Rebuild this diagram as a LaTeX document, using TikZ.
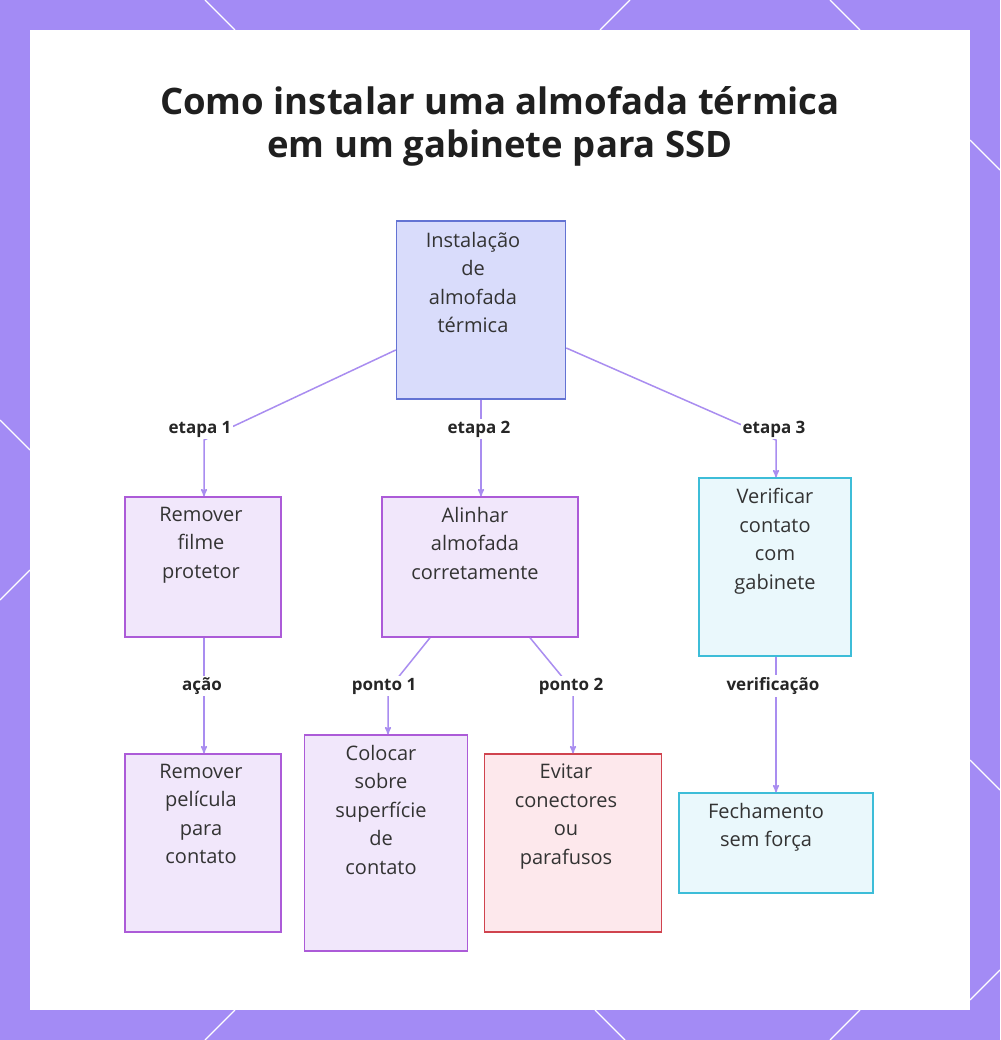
\documentclass[tikz,border=0pt]{standalone}
\usepackage{fontspec}
\setmainfont{Open Sans}
\usetikzlibrary{arrows,calc,positioning}
\definecolor{frame}{HTML}{A38BF5}
\definecolor{edge}{HTML}{A98DF0}
\definecolor{rootfill}{HTML}{D9DCFB}
\definecolor{rootline}{HTML}{6373D3}
\definecolor{purfill}{HTML}{F1E7FB}
\definecolor{purline}{HTML}{AC5BD8}
\definecolor{cyfill}{HTML}{EAF8FC}
\definecolor{cyline}{HTML}{3DBDD8}
\definecolor{redfill}{HTML}{FDE8EC}
\definecolor{redline}{HTML}{D0434E}
\begin{document}
\begin{tikzpicture}[x=1pt,y=-1pt]
		\tikzstyle{box}=[draw,line width=1.5pt,inner sep=0pt]
		\tikzstyle{words}=[align=center,inner sep=0pt,anchor=north,
			font=\fontsize{20}{28.5}\selectfont,text=black!80]
		\tikzstyle{purple box}=[box,fill=purfill,draw=purline]
		\tikzstyle{cyan box}=[box,fill=cyfill,draw=cyline]
		\tikzstyle{link}=[draw=edge,line width=1.5pt,->,>=stealth']
		\tikzstyle{tag}=[font=\bfseries\fontsize{17}{19}\selectfont,text=black!85,fill=white,inner sep=2pt]

		%frame
		\useasboundingbox (0,0) rectangle (1000,1040);
		\fill[frame] (0,0) rectangle (1000,1040);
		\foreach \a/\b/\c/\d in {205/0/235/30, 600/30/630/0, 830/0/860/30, 0/420/30/450, 0/600/30/570,
			970/140/1000/170, 970/760/1000/790, 970/1000/1000/970, 205/1040/235/1010, 595/1010/625/1040, 830/1040/860/1010}
			\draw[white,line width=1.2pt] (\a,\b) -- (\c,\d);
		\fill[white] (30,30) rectangle (970,1010);

		%title
		\node[font=\bfseries\fontsize{36.5}{43}\selectfont,text=black!88,align=center] (title) at (500,126)
			{Como instalar uma almofada térmica\\em um gabinete para SSD};

		%nodes
		\node[box,fill=rootfill,draw=rootline,minimum width=169,minimum height=178] (root) at (481,310) {};
		\node[words] at (473,232) {Instalação\\de\\almofada\\térmica};
		\node[purple box,minimum width=156,minimum height=140] (rem) at (203,567) {};
		\node[words] at (201,507) {Remover\\filme\\protetor};
		\node[purple box,minimum width=196,minimum height=140] (ali) at (480,567) {};
		\node[words] at (475,507) {Alinhar\\almofada\\corretamente};
		\node[cyan box,minimum width=152,minimum height=178] (ver) at (775,567) {};
		\node[words] at (775,488) {Verificar\\contato\\com\\gabinete};
		\node[purple box,minimum width=156,minimum height=178] (pel) at (203,843) {};
		\node[words] at (201,764) {Remover\\película\\para\\contato};
		\node[purple box,minimum width=163,minimum height=216] (col) at (386,843) {};
		\node[words] at (381,745) {Colocar\\sobre\\superfície\\de\\contato};
		\node[box,fill=redfill,draw=redline,minimum width=177,minimum height=178] (evi) at (573,843) {};
		\node[words] at (566,764) {Evitar\\conectores\\ou\\parafusos};
		\node[cyan box,minimum width=194,minimum height=100] (fec) at (776,843) {};
		\node[words] at (766,803) {Fechamento\\sem força};

		%bends
		\coordinate (b1) at (204,440);
		\coordinate (b3) at (776,440);
		\coordinate (b4) at (388,690);
		\coordinate (b5) at (573,690);

		%links
		\draw[link] (root.west |- 0,350) -- (b1) -- (rem.north -| b1);
		\draw[link] (root.south -| 481,0) -- (ali.north -| 481,0);
		\draw[link] (root.east |- 0,348) -- (b3) -- (ver.north -| b3);
		\draw[link] (rem.south -| 204,0) -- (pel.north -| 204,0);
		\draw[link] (ali.south -| 430,0) -- (b4) -- (col.north -| b4);
		\draw[link] (ali.south -| 530,0) -- (b5) -- (evi.north -| b5);
		\draw[link] (ver.south -| 776,0) -- (fec.north -| 776,0);

		%labels
		\node[tag] at (200,429) {etapa 1};
		\node[tag] at (479,429) {etapa 2};
		\node[tag] at (774,429) {etapa 3};
		\node[tag] at (202,686) {ação};
		\node[tag] at (384,686) {ponto 1};
		\node[tag] at (571,686) {ponto 2};
		\node[tag] at (773,686) {verificação};
	\end{tikzpicture}
\end{document}
